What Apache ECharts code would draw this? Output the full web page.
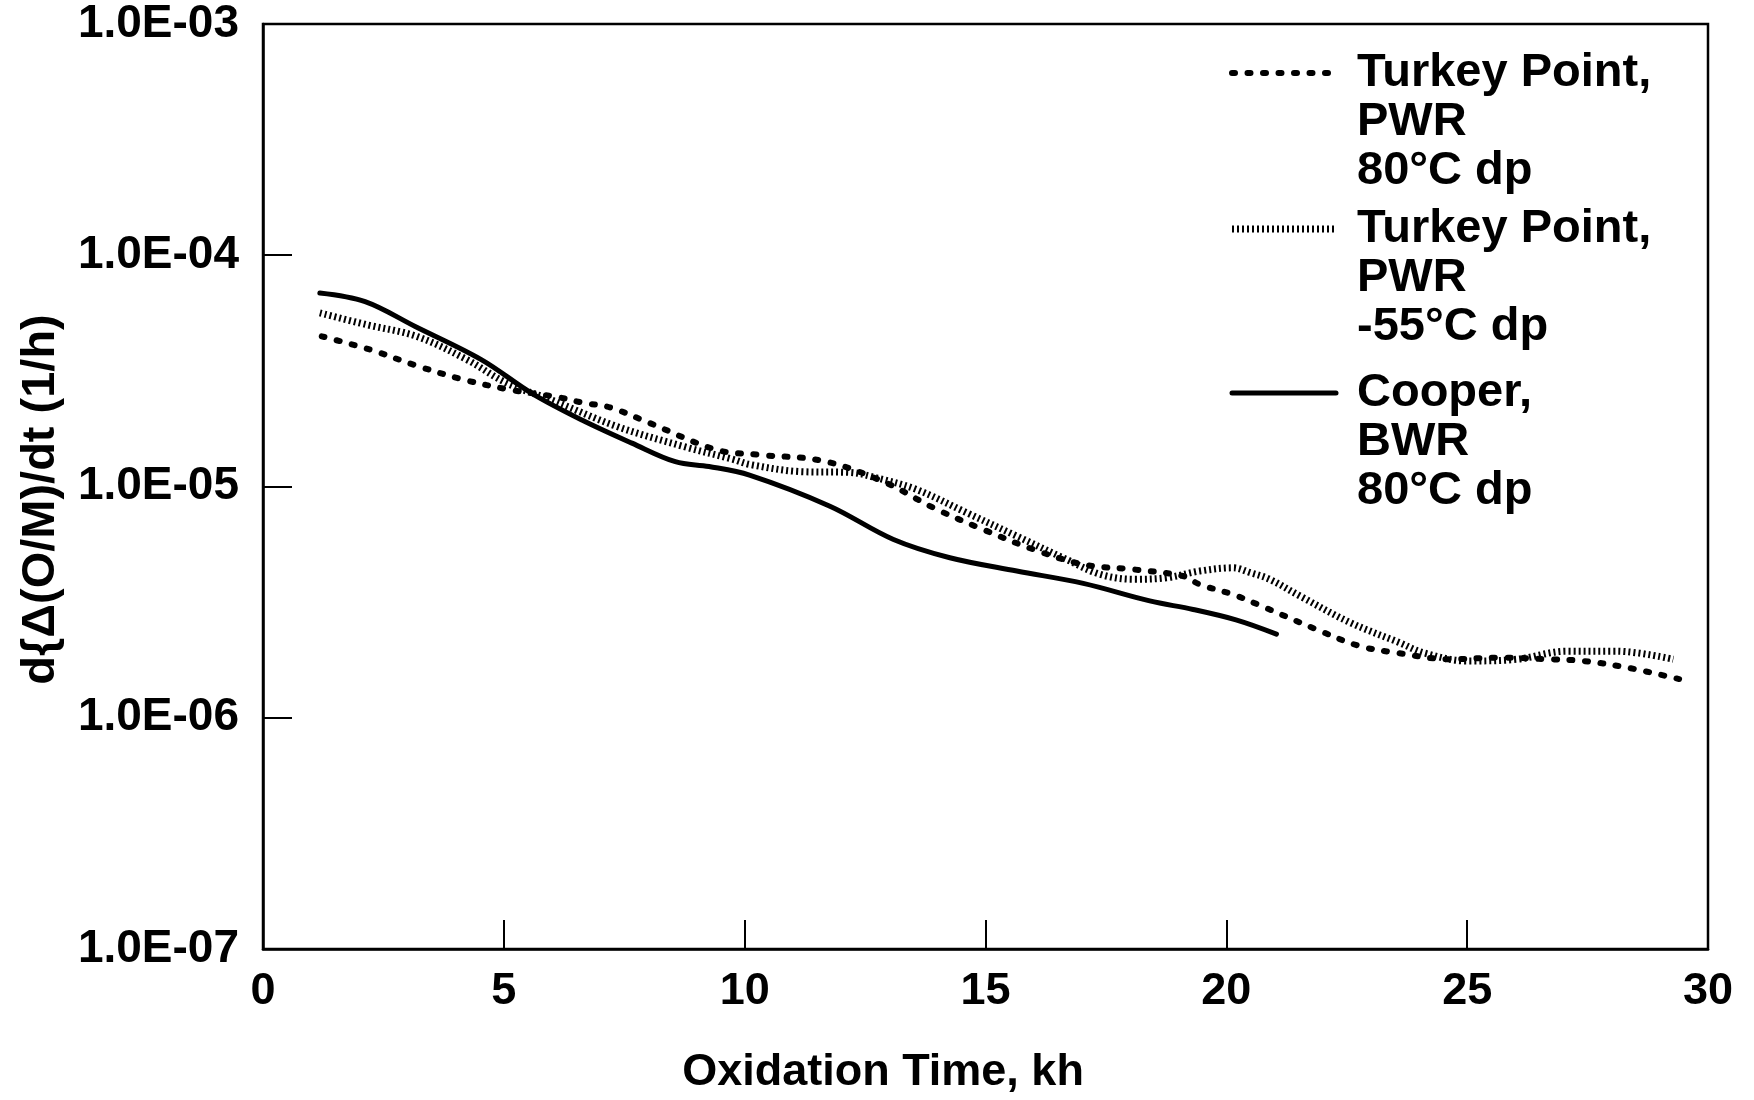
<!DOCTYPE html>
<html><head><meta charset="utf-8">
<script src="https://cdn.jsdelivr.net/npm/echarts@6/dist/echarts.min.js"></script>
<style>html,body{margin:0;padding:0;background:#fff}#c{width:1754px;height:1100px}</style>
</head><body><div id="c"></div>
<script>
// ---- data ----
const xTickLabels = ['0', '5', '10', '15', '20', '25', '30'];
const yTickLabels = ['1.0E-07', '1.0E-06', '1.0E-05', '1.0E-04', '1.0E-03'];
const seriesNames = ['Turkey Point,\nPWR\n80°C dp', 'Turkey Point,\nPWR\n-55°C dp', 'Cooper,\nBWR\n80°C dp'];

const tp80X = [1.22, 2.22, 3.19, 4.16, 5.13, 6.1, 6.65, 7.2, 8.03, 9.42, 10.32, 11.63, 12.88, 13.92, 14.95, 15.99, 17.03, 18.07, 19.1, 19.45, 20.14, 20.7, 21.87, 22.77, 23.53, 24.64, 25.68, 26.72, 27.41, 28.31, 29.4];
const tp80Y = [4.46e-5, 3.91e-5, 3.33e-5, 2.9e-5, 2.62e-5, 2.44e-5, 2.3e-5, 2.2e-5, 1.88e-5, 1.44e-5, 1.37e-5, 1.29e-5, 1.05e-5, 8.09e-6, 6.52e-6, 5.35e-6, 4.6e-6, 4.38e-6, 4.1e-6, 3.77e-6, 3.41e-6, 3.06e-6, 2.41e-6, 2.04e-6, 1.91e-6, 1.79e-6, 1.82e-6, 1.79e-6, 1.76e-6, 1.65e-6, 1.47e-6];

const tp55X = [1.18, 2.15, 3.19, 4.23, 5.06, 5.96, 7.34, 8.73, 9.76, 10.11, 11.15, 12.19, 12.74, 13.57, 14.61, 15.65, 16.68, 17.38, 18.07, 18.76, 19.45, 20.14, 20.5, 20.9, 21.53, 22.57, 23.6, 24.09, 24.99, 26.03, 27.06, 28.1, 29.28];
const tp55Y = [5.63e-5, 5.01e-5, 4.46e-5, 3.54e-5, 2.8e-5, 2.38e-5, 1.82e-5, 1.49e-5, 1.31e-5, 1.245e-5, 1.16e-5, 1.15e-5, 1.09e-5, 9.7e-6, 7.7e-6, 6.1e-6, 4.84e-6, 4.17e-6, 3.97e-6, 4.03e-6, 4.31e-6, 4.45e-6, 4.24e-6, 3.97e-6, 3.36e-6, 2.58e-6, 2.11e-6, 1.91e-6, 1.76e-6, 1.79e-6, 1.94e-6, 1.94e-6, 1.79e-6];

const cooperX = [1.18, 2.12, 3.16, 4.54, 5.58, 6.62, 7.66, 8.56, 9.26, 10.1, 11.77, 13.09, 14.26, 15.65, 17.03, 18.41, 19.31, 20.2, 21.04];
const cooperY = [6.87e-5, 6.3e-5, 4.92e-5, 3.53e-5, 2.53e-5, 1.94e-5, 1.54e-5, 1.28e-5, 1.22e-5, 1.12e-5, 8.22e-6, 5.9e-6, 4.92e-6, 4.31e-6, 3.81e-6, 3.2e-6, 2.94e-6, 2.65e-6, 2.3e-6];

// ---- styles ----
const FONT = "'Liberation Sans', Arial, Helvetica, sans-serif";
const styles = [
  {color: '#000', width: 6, type: [3, 12.5], cap: 'round'},
  {color: '#000', width: 7, type: [2, 3], cap: 'butt'},
  {color: '#000', width: 5, type: 'solid', cap: 'round'}
];
const pairs = (xs, ys) => xs.map((x, i) => [x, ys[i]]);
const datasets = [pairs(tp80X, tp80Y), pairs(tp55X, tp55Y), pairs(cooperX, cooperY)];

const chart = echarts.init(document.getElementById('c'), null, {renderer: 'canvas'});

const legendY = [73, 229, 393];
const graphics = [];
seriesNames.forEach((n, i) => {
  const s = styles[i];
  graphics.push({
    type: 'line', silent: true,
    shape: {x1: 1232, y1: legendY[i], x2: 1336, y2: legendY[i]},
    style: {stroke: s.color, lineWidth: s.width, lineDash: Array.isArray(s.type) ? s.type : null, lineCap: s.cap}
  });
  graphics.push({
    type: 'text', silent: true, x: 1357, y: legendY[i] - 24.5,
    style: {text: n, font: 'bold 47px ' + FONT, fill: '#000', lineHeight: 49, verticalAlign: 'top', align: 'left'}
  });
});

chart.setOption({
  animation: false,
  backgroundColor: '#fff',
  grid: {left: 263, right: 46, top: 24, bottom: 150, show: true, borderColor: '#000', borderWidth: 2.5},
  xAxis: {
    type: 'value', min: 0, max: 30, interval: 5,
    name: 'Oxidation Time, kh', nameLocation: 'middle', nameGap: 101,
    nameTextStyle: {fontFamily: FONT, fontWeight: 'bold', fontSize: 45, color: '#000', padding: [0, 205, 0, 0]},
    axisLine: {show: true, lineStyle: {color: '#000', width: 2.5}},
    axisTick: {show: true, inside: true, length: 29, lineStyle: {color: '#000', width: 2}},
    axisLabel: {margin: 20, fontFamily: FONT, fontWeight: 'bold', fontSize: 45, color: '#000',
      formatter: v => xTickLabels[Math.round(v / 5)]},
    splitLine: {show: false}
  },
  yAxis: {
    type: 'log', logBase: 10, min: 1e-7, max: 1e-3,
    name: 'd{Δ(O/M)/dt (1/h)', nameLocation: 'middle', nameGap: 198,
    nameTextStyle: {fontFamily: FONT, fontWeight: 'bold', fontSize: 47, color: '#000', padding: [0, 26, 0, 0]},
    axisLine: {show: true, lineStyle: {color: '#000', width: 2.5}},
    axisTick: {show: true, inside: true, length: 29, lineStyle: {color: '#000', width: 2}},
    minorTick: {show: false},
    axisLabel: {margin: 24, fontFamily: FONT, fontWeight: 'bold', fontSize: 46, color: '#000',
      formatter: v => yTickLabels[Math.round(Math.log10(v)) + 7]},
    splitLine: {show: false}
  },
  series: datasets.map((d, i) => ({
    type: 'line', name: seriesNames[i], data: d, smooth: 0.35, showSymbol: false, symbol: 'none',
    lineStyle: styles[i], z: 3 - i
  })),
  graphic: graphics
});
</script>
</body></html>
